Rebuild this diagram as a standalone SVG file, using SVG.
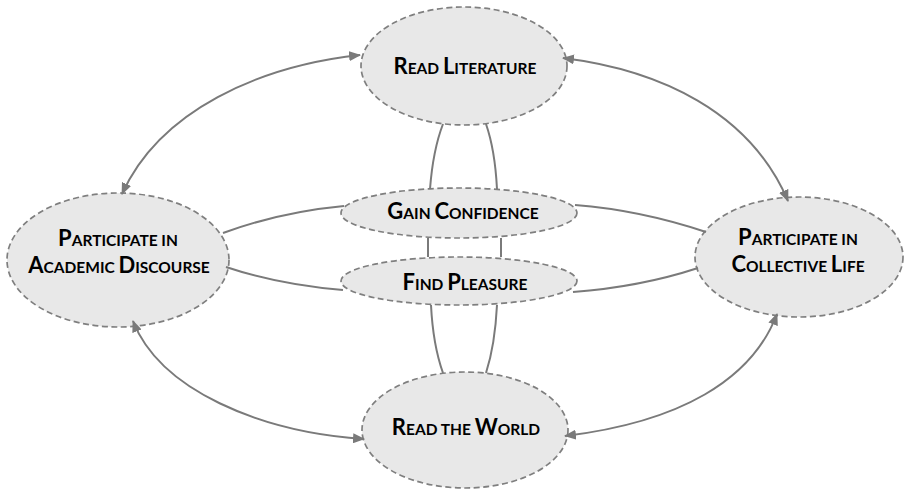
<svg xmlns="http://www.w3.org/2000/svg" width="904" height="493" viewBox="0 0 904 493">
<style>
.node{fill:#e8e8e8;stroke:#7f7f7f;stroke-width:1.7;stroke-dasharray:6,3.5}
.lbl{font-family:Lato,"Open Sans","Liberation Sans",sans-serif;font-weight:bold;font-size:15.5px;fill:#000;text-anchor:middle}
.b{font-size:22px}
.c{fill:none;stroke:#7a7a7a;stroke-width:2}
.a{marker-start:url(#ah);marker-end:url(#ah)}
</style>
<defs>
<marker id="ah" markerUnits="userSpaceOnUse" viewBox="0 0 12 10" refX="11" refY="5" markerWidth="12" markerHeight="10" orient="auto-start-reverse">
<path d="M0,0 L12,5 L0,10 z" fill="#7a7a7a"/>
</marker>
</defs>
<rect width="904" height="493" fill="#fff"/>
<g id="nodes">
<g id="read-literature"><ellipse class="node" cx="464" cy="66" rx="103" ry="59"/>
<text class="lbl" x="465" y="74"><tspan class="b">R</tspan>EAD <tspan class="b">L</tspan>ITERATURE</text></g>
<g id="gain-confidence"><ellipse class="node" cx="459" cy="213" rx="118" ry="25"/>
<text class="lbl" x="463" y="219"><tspan class="b">G</tspan>AIN <tspan class="b">C</tspan>ONFIDENCE</text></g>
<g id="find-pleasure"><ellipse class="node" cx="459" cy="281" rx="118" ry="24"/>
<text class="lbl" x="465" y="290"><tspan class="b">F</tspan>IND <tspan class="b">P</tspan>LEASURE</text></g>
<g id="academic-discourse"><ellipse class="node" cx="118" cy="260" rx="111" ry="67"/>
<text class="lbl" x="118" y="246"><tspan class="b">P</tspan>ARTICIPATE IN</text>
<text class="lbl" x="119" y="273"><tspan class="b">A</tspan>CADEMIC <tspan class="b">D</tspan>ISCOURSE</text></g>
<g id="collective-life"><ellipse class="node" cx="799" cy="257" rx="104" ry="60"/>
<text class="lbl" x="798" y="245"><tspan class="b">P</tspan>ARTICIPATE IN</text>
<text class="lbl" x="798" y="272"><tspan class="b">C</tspan>OLLECTIVE <tspan class="b">L</tspan>IFE</text></g>
<g id="read-world"><ellipse class="node" cx="465" cy="430" rx="103" ry="58"/>
<text class="lbl" x="466" y="435"><tspan class="b">R</tspan>EAD THE <tspan class="b">W</tspan>ORLD</text></g>
</g>
<g id="connectors">
<path class="c a" d="M360,55 C260,66 160,110 122,194"/>
<path class="c a" d="M563,58 C660,70 750,112 788,201"/>
<path class="c a" d="M133,321 C160,390 260,432 364,439"/>
<path class="c a" d="M565,436 C680,422 752,380 777,314"/>
<path class="c" d="M443,124 Q433,150 430,189"/>
<path class="c" d="M486,124 Q495,150 497,189"/>
<path class="c" d="M428,238 L428,257"/>
<path class="c" d="M501,238 L501,257"/>
<path class="c" d="M431,305 Q433,345 443,373"/>
<path class="c" d="M497,305 Q495,345 486,373"/>
<path class="c" d="M223,233 Q280,212 344,206"/>
<path class="c" d="M226,267 Q280,285 343,290"/>
<path class="c" d="M575,205 Q640,210 706,232"/>
<path class="c" d="M573,292 Q640,287 698,268"/>
</g>
</svg>
